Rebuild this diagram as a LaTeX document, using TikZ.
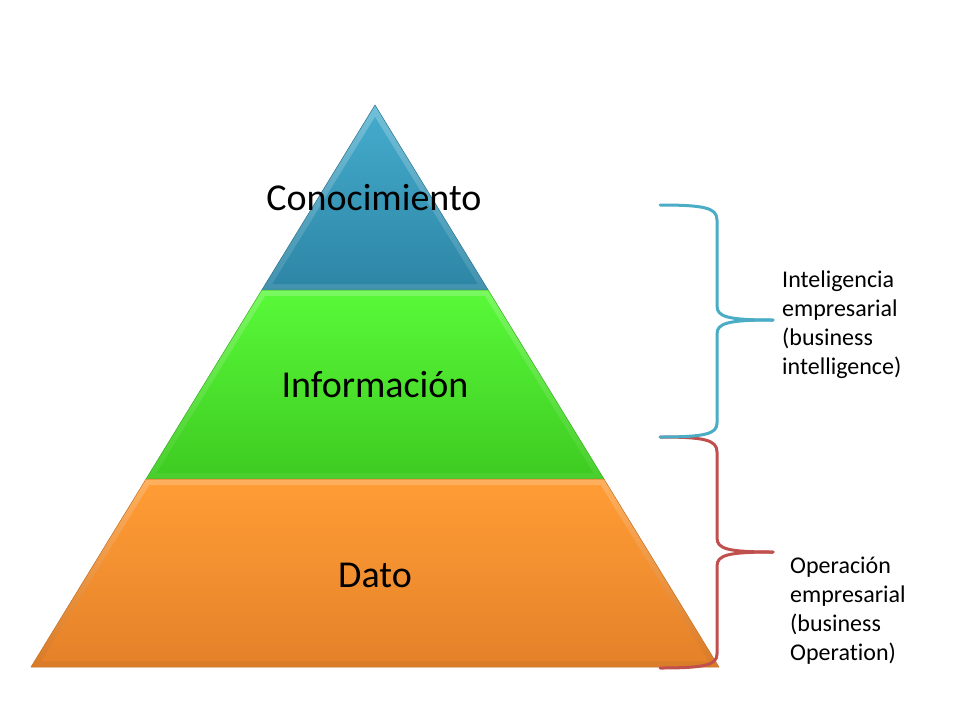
\documentclass[tikz,border=0pt]{standalone}
\usepackage{fontspec}
\setmainfont{Carlito}[Ligatures=NoCommon]
\usetikzlibrary{calc}
\definecolor{bluetop}{HTML}{43AACB}
\definecolor{bluebot}{HTML}{2E86A6}
\definecolor{greentop}{HTML}{58F838}
\definecolor{greenbot}{HTML}{3FCC22}
\definecolor{orangetop}{HTML}{FF9C35}
\definecolor{orangebot}{HTML}{E5822A}
\definecolor{braceblue}{HTML}{4BACC6}
\definecolor{bracered}{HTML}{C0504D}
\tikzset{
  x=1pt, y=-1pt,
  label big/.style={font=\fontsize{38}{44}\selectfont, text=black, inner sep=0pt},
  label side/.style={font=\fontsize{24}{29}\selectfont, align=left, anchor=west, inner sep=0pt},
  brace line/.style={line width=3pt, line cap=round, line join=round},
}
\begin{document}
\begin{tikzpicture}
\useasboundingbox (0,0) rectangle (960,720);
% --- top (blue) section
\shade[top color=bluetop!75!white, bottom color=bluebot!90!white] (375,105) -- (261.8,290) -- (488.2,290) -- cycle;
\shade[top color=bluetop, bottom color=bluebot] (375,117) -- (272.4,284) -- (477.6,284) -- cycle;
\draw[bluebot!85!black, line width=0.5pt] (375,105) -- (261.8,290) -- (488.2,290) -- cycle;
% --- middle (green) section
\shade[top color=greentop!80!white, bottom color=greenbot!95!white] (261.8,290) -- (146,479) -- (604,479) -- (488.2,290) -- cycle;
\shade[top color=greentop, bottom color=greenbot] (265.1,296) -- (156.7,473) -- (593.3,473) -- (484.9,296) -- cycle;
\draw[greenbot!85!black, line width=0.5pt] (261.8,290) -- (146,479) -- (604,479) -- (488.2,290) -- cycle;
% --- bottom (orange) section
\shade[top color=orangetop!80!white, bottom color=orangebot!95!black] (146,479) -- (31,667) -- (719,667) -- (604,479) -- cycle;
\shade[top color=orangetop, bottom color=orangebot] (149.4,485) -- (41.7,661) -- (708.3,661) -- (600.6,485) -- cycle;
\draw[orangebot!85!black, line width=0.5pt] (146,479) -- (31,667) -- (719,667) -- (604,479) -- cycle;
% --- labels
\node[label big] (cono) at (374,198) {Conocimiento};
\node[label big] (info) at (375,385) {Información};
\node[label big] (dato) at (375,575) {Dato};
% --- braces
\coordinate (bTop) at (660,205);
\coordinate (bTip) at (773,320);
\coordinate (bBot) at (660,437);
\coordinate (rTop) at (660,437);
\coordinate (rTip) at (773,552);
\coordinate (rBot) at (660,668);
\draw[brace line, bracered] (rTop) .. controls (705,437) and (717,440) .. (717,452)
  -- (717,538) .. controls (717,549) and (728,552) .. (rTip);
\draw[brace line, bracered] (rTip) .. controls (728,552) and (717,555) .. (717,566)
  -- (717,654) .. controls (717,665) and (705,668) .. (rBot);
\draw[brace line, braceblue] (bTop) .. controls (705,205) and (717,208) .. (717,220)
  -- (717,306) .. controls (717,317) and (728,320) .. (bTip);
\draw[brace line, braceblue] (bTip) .. controls (728,320) and (717,323) .. (717,334)
  -- (717,423) .. controls (717,434) and (705,437) .. (bBot);
% --- side texts
\node[label side] (bi) at (782,325) {Inteligencia\\empresarial\\(business\\intelligence)};
\node[label side] (bo) at (790,611) {Operación\\empresarial\\(business\\Operation)};
\end{tikzpicture}
\end{document}
